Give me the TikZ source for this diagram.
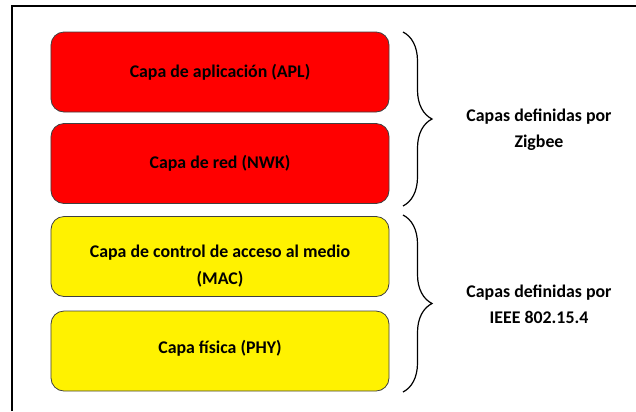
\documentclass[tikz,border=0pt]{standalone}
\usepackage{fontspec}
\setmainfont{Carlito}
\usepackage{tikz}
\usetikzlibrary{decorations.pathreplacing}

\begin{document}
\begin{tikzpicture}[x=1bp,y=-1bp,
                capa/.style={draw=black!75,line width=0.8bp,fill=#1,rounded corners=13bp,
                    minimum width=338bp,minimum height=80bp,inner sep=0pt},
                rotulo/.style={font=\bfseries\fontsize{17.9}{26.5}\selectfont,align=center,text=black},
                llave/.style={decorate,decoration={brace,amplitude=29bp},line width=1.2bp}]
                \useasboundingbox (0,0) rectangle (636,411);
                \draw [line width=2bp] (12,411)--(12,6)--(636,6);
                \node [capa=red] (apl) at (220,72) {};
                \node [capa=red] (nwk) at (220,163.5) {};
                \node [capa=yellow] (mac) at (220,256.5) {};
                \node [capa=yellow] (phy) at (220,351) {};
                \node [rotulo] (aplt) at (apl.center) {Capa de aplicación (APL)};
                \node [rotulo] (nwkt) at (nwk.center) {Capa de red (NWK)};
                \node [rotulo] (mact) at (220,266) {Capa de control de acceso al medio\\(MAC)};
                \node [rotulo] (phyt) at (220,348) {Capa física (PHY)};
                \coordinate (zb1) at (403,32);
                \coordinate (zb2) at (403,206);
                \coordinate (ie1) at (403,215);
                \coordinate (ie2) at (403,392);
                \draw [llave] (zb1)--(zb2);
                \draw [llave] (ie1)--(ie2);
                \node [rotulo] (zigbee) at (539,130) {Capas definidas por\\Zigbee};
                \node [rotulo] (ieee) at (539,304) {Capas definidas por\\IEEE 802.15.4};
            \end{tikzpicture}
\end{document}
